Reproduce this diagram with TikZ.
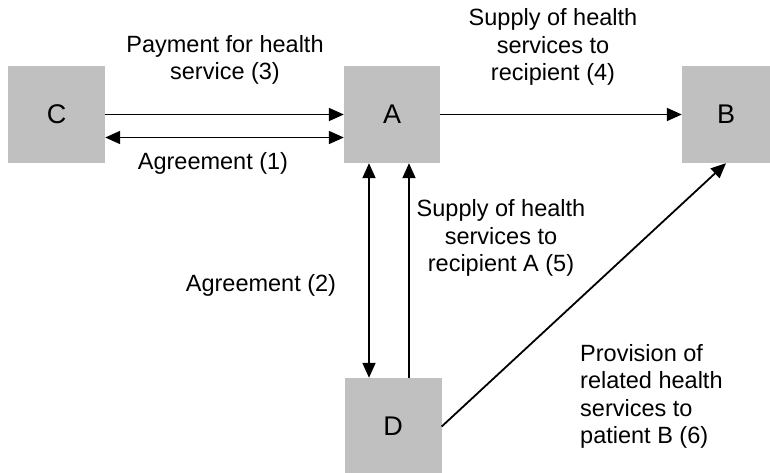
\documentclass[tikz,border=0pt]{standalone}
\usepackage{fontspec}
\setmainfont{Liberation Sans}
\usetikzlibrary{arrows.meta}
\definecolor{boxgray}{RGB}{192,192,192}
\tikzset{
  ent/.style={fill=boxgray, draw=none, minimum width=97pt, minimum height=97pt, inner sep=0pt, font=\fontsize{27}{30}\selectfont},
  lbl/.style={align=center, inner sep=0pt, font=\fontsize{23.5}{27.5}\selectfont},
  conn/.style={line width=1.8pt, -{Triangle[length=15pt,width=13pt]}},
  dconn/.style={line width=1.8pt, {Triangle[length=15pt,width=13pt]}-{Triangle[length=15pt,width=13pt]}}
}
\begin{document}
\begin{tikzpicture}[x=1pt,y=1pt]
\useasboundingbox (0,0) rectangle (770,472);
\node[ent] (C) at (56.5,357.5) {C};
\node[ent, minimum width=96pt] (A) at (392,357.5) {A};
\node[ent, minimum width=88pt] (B) at (726,357.5) {B};
\node[ent] (D) at (393,45.5) {D};
\draw[conn] (C.east) -- (A.west);
\draw[dconn] ([yshift=-23pt]C.east) -- ([yshift=-23pt]A.west);
\draw[conn] (A.east) -- (B.west);
\draw[dconn] ([xshift=-23pt]A.south) -- ([xshift=-23pt]A.south |- D.north);
\draw[conn] ([xshift=17pt]A.south |- D.north) -- ([xshift=17pt]A.south);
\draw[conn] (D.east) -- (B.south);
\node[lbl] (l3) at (225,412) {Payment for health\\service (3)};
\node[lbl] (l1) at (213,309) {Agreement (1)};
\node[lbl] (l4) at (553,425) {Supply of health\\services to\\recipient (4)};
\node[lbl] (l2) at (261,187) {Agreement (2)};
\node[lbl] (l5) at (501,234) {Supply of health\\services to\\recipient A (5)};
\node[lbl, align=left, anchor=west] (l6) at (580,75.5) {Provision of\\related health\\services to\\patient B (6)};
\end{tikzpicture}
\end{document}
